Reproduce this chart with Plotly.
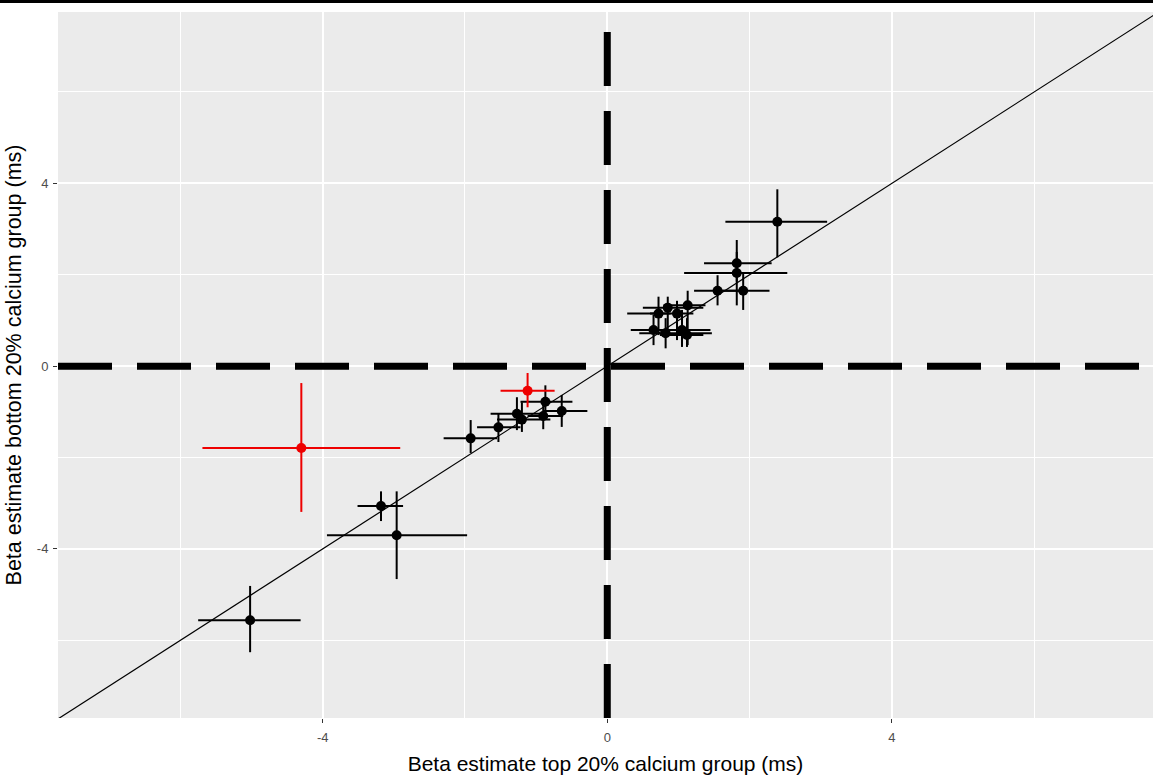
import plotly.graph_objects as go

# ---- data ----
# black estimates
blk_x    = [-5.02, -3.18, -2.96, -1.92, -1.53, -1.27, -1.20, -0.90, -0.87, -0.64,
            0.85, 1.13, 0.72, 0.98, 0.65, 0.82, 1.05, 1.12,
            2.39, 1.82, 1.82, 1.55, 1.91]
blk_x_lo = [-5.75, -3.51, -3.94, -2.30, -1.83, -1.64, -1.55, -1.12, -1.22, -0.90,
            0.50, 0.79, 0.28, 0.60, 0.33, 0.45, 0.67, 0.74,
            1.66, 1.36, 1.08, 1.22, 1.59]
blk_x_hi = [-4.31, -2.87, -1.97, -1.55, -1.22, -0.90, -0.80, -0.62, -0.49, -0.28,
            1.35, 1.38, 0.89, 1.21, 1.17, 1.47, 1.45, 1.35,
            3.09, 2.31, 2.53, 1.87, 2.28]
blk_y    = [-5.56, -3.06, -3.70, -1.58, -1.34, -1.04, -1.17, -1.09, -0.78, -0.98,
            1.28, 1.33, 1.15, 1.15, 0.79, 0.72, 0.79, 0.68,
            3.16, 2.25, 2.04, 1.65, 1.65]
blk_y_lo = [-6.26, -3.39, -4.66, -1.90, -1.66, -1.40, -1.44, -1.38, -1.12, -1.33,
            0.79, 0.46, 0.68, 0.57, 0.46, 0.39, 0.42, 0.42,
            2.38, 1.85, 1.33, 1.33, 1.23]
blk_y_hi = [-4.81, -2.74, -2.74, -1.18, -1.03, -0.68, -0.79, -0.81, -0.42, -0.63,
            1.52, 1.65, 1.52, 1.43, 1.12, 1.05, 1.23, 1.05,
            3.87, 2.76, 2.50, 1.99, 2.05]

# red (highlighted) estimates
red_x    = [-4.30, -1.12]
red_x_lo = [-5.69, -1.50]
red_x_hi = [-2.91, -0.74]
red_y    = [-1.79, -0.54]
red_y_lo = [-3.19, -0.90]
red_y_hi = [-0.37, -0.15]

x_ticks = [-4, 0, 4]
y_ticks = [-4, 0, 4]
x_range = [-7.72, 7.67]
y_range = [-7.70, 7.75]
ref_zero = 0

x_title = "Beta estimate top 20% calcium group (ms)"
y_title = "Beta estimate bottom 20% calcium group (ms)"

FONT = "Liberation Sans, Arial, sans-serif"


def errs(v, lo, hi):
    return [h - e for e, h in zip(v, hi)], [e - l for e, l in zip(v, lo)]


fig = go.Figure()

for xs, xl, xh, ys, yl, yh, col in [
    (blk_x, blk_x_lo, blk_x_hi, blk_y, blk_y_lo, blk_y_hi, "black"),
    (red_x, red_x_lo, red_x_hi, red_y, red_y_lo, red_y_hi, "#ee0000"),
]:
    ex_p, ex_m = errs(xs, xl, xh)
    ey_p, ey_m = errs(ys, yl, yh)
    fig.add_trace(go.Scatter(
        x=xs, y=ys, mode="markers",
        marker=dict(color=col, size=10, line=dict(width=0)),
        error_x=dict(type="data", array=ex_p, arrayminus=ex_m, symmetric=False,
                     width=0, thickness=2, color=col),
        error_y=dict(type="data", array=ey_p, arrayminus=ey_m, symmetric=False,
                     width=0, thickness=2, color=col),
        showlegend=False, hoverinfo="x+y",
    ))

shapes = [
    # y = x reference line
    dict(type="line", xref="x", yref="y", layer="between",
         x0=min(x_range[0], y_range[0]), y0=min(x_range[0], y_range[0]),
         x1=max(x_range[1], y_range[1]), y1=max(x_range[1], y_range[1]),
         line=dict(color="black", width=1.2)),
    # horizontal dashed zero line
    dict(type="line", xref="x", yref="y", layer="between",
         x0=x_range[0], x1=x_range[1], y0=ref_zero, y1=ref_zero,
         line=dict(color="black", width=7, dash="54px,25px")),
    # vertical dashed zero line (drawn from bottom)
    dict(type="line", xref="x", yref="y", layer="between",
         x0=ref_zero, x1=ref_zero, y0=y_range[0], y1=y_range[1],
         line=dict(color="black", width=7, dash="54px,25px")),
    # top border line of the image
    dict(type="line", xref="paper", yref="paper",
         x0=-0.06, x1=1.0, y0=1.0149, y1=1.0149,
         line=dict(color="black", width=3)),
]

axis_common = dict(
    showgrid=True, gridcolor="white", gridwidth=2,
    zeroline=False, showline=False,
    ticks="outside", ticklen=4, tickwidth=1, tickcolor="#333333",
    tickfont=dict(family=FONT, size=13, color="#4D4D4D"),
    minor=dict(dtick=2, tick0=0, showgrid=True, gridcolor="white", gridwidth=1.4, ticks=""),
    automargin=False,
)

fig.update_layout(
    width=1153, height=778,
    margin=dict(l=58, r=0, t=12, b=60),
    paper_bgcolor="white", plot_bgcolor="#EBEBEB",
    font=dict(family=FONT, color="black"),
    shapes=shapes,
    xaxis=dict(axis_common, range=x_range, tickmode="array", tickvals=x_ticks,
               ticktext=[str(t) for t in x_ticks], ticklabelstandoff=3,
               title=dict(text=x_title, font=dict(size=21, color="black"), standoff=12)),
    yaxis=dict(axis_common, range=y_range, tickmode="array", tickvals=y_ticks,
               ticktext=[str(t) for t in y_ticks], ticklabelstandoff=2,
               title=dict(text=y_title, font=dict(size=21.5, color="black"), standoff=9)),
)

fig.write_html("out.html")
